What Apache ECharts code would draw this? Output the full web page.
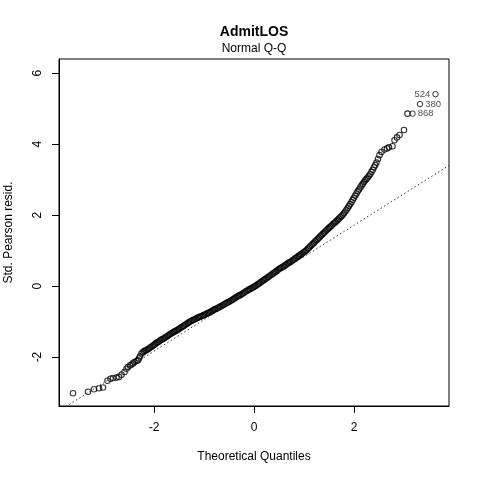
<!DOCTYPE html>
<html>
<head>
<meta charset="utf-8">
<script src="https://cdn.jsdelivr.net/npm/echarts@6/dist/echarts.min.js"></script>
<style>
  html, body { margin: 0; padding: 0; background: #fff; }
  #chart { width: 480px; height: 480px; }
</style>
</head>
<body>
<div id="chart"></div>
<script>
// theoretical quantiles / std. pearson residuals
var qqX = [
    -3.62, -3.32, -3.20, -3.10, -3.02, -2.93, -2.87, -2.82, -2.75, -2.70,
    -2.65, -2.59, -2.55, -2.52, -2.48, -2.45, -2.42, -2.39, -2.35, -2.32,
    -2.30, -2.28,
    -2.250, -2.225, -2.200, -2.175, -2.150, -2.125, -2.100, -2.075,
    -2.050, -2.025, -2.000, -1.975, -1.950, -1.925, -1.900, -1.875,
    -1.850, -1.825, -1.800, -1.775, -1.750, -1.725, -1.700, -1.675,
    -1.650, -1.625, -1.600, -1.575, -1.550, -1.525, -1.500, -1.475,
    -1.450, -1.425, -1.400, -1.375, -1.350, -1.325, -1.300, -1.275,
    -1.250, -1.225, -1.200, -1.175, -1.150, -1.125, -1.100, -1.075,
    -1.050, -1.025, -1.000, -0.975, -0.950, -0.925, -0.900, -0.875,
    -0.850, -0.825, -0.800, -0.775, -0.750, -0.725, -0.700, -0.675,
    -0.650, -0.625, -0.600, -0.575, -0.550, -0.525, -0.500, -0.475,
    -0.450, -0.425, -0.400, -0.375, -0.350, -0.325, -0.300, -0.275,
    -0.250, -0.225, -0.200, -0.175, -0.150, -0.125, -0.100, -0.075,
    -0.050, -0.025, 0.000, 0.025, 0.050, 0.075, 0.100, 0.125,
    0.150, 0.175, 0.200, 0.225, 0.250, 0.275, 0.300, 0.325,
    0.350, 0.375, 0.400, 0.425, 0.450, 0.475, 0.500, 0.525,
    0.550, 0.575, 0.600, 0.625, 0.650, 0.675, 0.700, 0.725,
    0.750, 0.775, 0.800, 0.825, 0.850, 0.875, 0.900, 0.925,
    0.950, 0.975, 1.000, 1.025, 1.050, 1.075, 1.100, 1.125,
    1.150, 1.175, 1.200, 1.225, 1.250, 1.275, 1.300, 1.325,
    1.350, 1.375, 1.400, 1.425, 1.450, 1.475, 1.500, 1.525,
    1.550, 1.575, 1.600, 1.625, 1.650, 1.675, 1.700, 1.725,
    1.750, 1.775, 1.800, 1.825, 1.850, 1.875, 1.900, 1.925,
    1.950, 1.975, 2.000, 2.025, 2.050, 2.075, 2.100, 2.125,
    2.150, 2.175, 2.200, 2.225, 2.250, 2.275, 2.300, 2.325,
    2.350, 2.375, 2.400, 2.425, 2.450,
    2.48, 2.51, 2.55, 2.61, 2.66, 2.70, 2.77, 2.81, 2.86, 2.91,
    3.00, 3.07
];
var qqY = [
    -3.02, -2.98, -2.91, -2.88, -2.86, -2.67, -2.61, -2.59, -2.58, -2.56,
    -2.50, -2.42, -2.33, -2.28, -2.24, -2.21, -2.18, -2.14, -2.11, -2.09,
    -2.04, -1.98,
    -1.90, -1.87, -1.84, -1.82, -1.80, -1.78, -1.76, -1.73,
    -1.71, -1.68, -1.66, -1.63, -1.60, -1.58, -1.56, -1.53,
    -1.51, -1.49, -1.47, -1.45, -1.43, -1.40, -1.38, -1.35,
    -1.33, -1.31, -1.29, -1.27, -1.25, -1.23, -1.21, -1.18,
    -1.16, -1.14, -1.12, -1.09, -1.07, -1.04, -1.02, -1.00,
    -0.98, -0.96, -0.95, -0.93, -0.91, -0.89, -0.88, -0.86,
    -0.85, -0.83, -0.82, -0.80, -0.78, -0.76, -0.75, -0.73,
    -0.71, -0.69, -0.67, -0.65, -0.64, -0.62, -0.60, -0.58,
    -0.56, -0.54, -0.52, -0.50, -0.48, -0.46, -0.44, -0.42,
    -0.40, -0.38, -0.36, -0.33, -0.31, -0.29, -0.27, -0.25,
    -0.23, -0.21, -0.19, -0.16, -0.14, -0.12, -0.10, -0.08,
    -0.06, -0.04, -0.02, 0.00, 0.02, 0.05, 0.07, 0.10,
    0.12, 0.15, 0.17, 0.20, 0.22, 0.25, 0.27, 0.30,
    0.32, 0.35, 0.37, 0.40, 0.42, 0.45, 0.48, 0.50,
    0.52, 0.54, 0.56, 0.59, 0.61, 0.64, 0.66, 0.68,
    0.70, 0.73, 0.75, 0.78, 0.80, 0.83, 0.85, 0.88,
    0.90, 0.93, 0.96, 0.98, 1.01, 1.05, 1.08, 1.12,
    1.15, 1.19, 1.22, 1.26, 1.29, 1.33, 1.36, 1.40,
    1.43, 1.47, 1.50, 1.54, 1.57, 1.61, 1.64, 1.67,
    1.70, 1.74, 1.77, 1.80, 1.83, 1.87, 1.90, 1.94,
    1.97, 2.01, 2.05, 2.10, 2.15, 2.20, 2.26, 2.31,
    2.37, 2.43, 2.49, 2.55, 2.61, 2.67, 2.72, 2.78,
    2.83, 2.88, 2.93, 2.98, 3.02, 3.06, 3.11, 3.16,
    3.22, 3.28, 3.35, 3.41, 3.48,
    3.58, 3.69, 3.78, 3.85, 3.88, 3.91, 3.94, 4.11, 4.19, 4.26,
    4.40, 4.86
];

// the three flagged observations
var idLabels = ['868', '380', '524'];
var idX = [3.17, 3.32, 3.63];
var idY = [4.86, 5.13, 5.41];
var idSide = ['right', 'right', 'left'];

// qqline end points at the axis limits
var refX = [-3.9, 3.9];
var refY = [-3.52, 3.40];

var xTicks = [-2, 0, 2];
var yTicks = [-2, 0, 2, 4, 6];

var myChart = echarts.init(document.getElementById('chart'));

var pts = [];
for (var i = 0; i < qqX.length; i++) {
    pts.push([qqX[i], qqY[i]]);
}
var idPts = [];
for (var j = 0; j < idX.length; j++) {
    idPts.push({
        name: idLabels[j],
        value: [idX[j], idY[j]],
        label: { position: idSide[j] }
    });
}

var font = 'Liberation Sans, Arial, sans-serif';
var tickStyle = { show: true, inside: false, length: 7, lineStyle: { color: '#000', width: 1 } };

var option = {
    animation: false,
    backgroundColor: '#fff',
    textStyle: { fontFamily: font },
    grid: {
        left: 59, right: 31, top: 59, bottom: 74,
        outerBoundsMode: 'none',
        show: true, borderColor: '#000', borderWidth: 1, backgroundColor: 'transparent'
    },
    graphic: [
        { type: 'text', x: 254, y: 32, style: { text: 'AdmitLOS', font: 'bold 14px ' + font, fill: '#000', textAlign: 'center', textVerticalAlign: 'middle' } },
        { type: 'text', x: 254, y: 49, style: { text: 'Normal Q-Q', font: '12px ' + font, fill: '#000', textAlign: 'center', textVerticalAlign: 'middle' } }
    ],
    xAxis: {
        type: 'value',
        min: -3.9,
        max: 3.9,
        name: 'Theoretical Quantiles',
        nameLocation: 'middle',
        nameGap: 45,
        nameTextStyle: { color: '#000', fontSize: 12, fontFamily: font },
        axisLine: { show: true, onZero: false, lineStyle: { color: '#000' } },
        axisTick: Object.assign({ customValues: xTicks }, tickStyle),
        axisLabel: { customValues: xTicks, color: '#000', fontSize: 12, margin: 16 },
        splitLine: { show: false }
    },
    yAxis: {
        type: 'value',
        min: -3.38,
        max: 6.4,
        name: 'Std. Pearson resid.',
        nameLocation: 'middle',
        nameRotate: 90,
        nameGap: 44,
        nameTextStyle: { color: '#000', fontSize: 12, fontFamily: font },
        axisLine: { show: true, onZero: false, lineStyle: { color: '#000' } },
        axisTick: Object.assign({ customValues: yTicks }, tickStyle),
        axisLabel: { customValues: yTicks, color: '#000', fontSize: 12, rotate: 90, margin: 15 },
        splitLine: { show: false }
    },
    series: [{
        type: 'line',
        data: [[refX[0], refY[0]], [refX[1], refY[1]]],
        symbol: 'none',
        clip: true,
        silent: true,
        lineStyle: { color: '#333', width: 1, type: [1.5, 2.5] }
    }, {
        type: 'scatter',
        data: pts,
        symbol: 'circle',
        symbolSize: 5.5,
        itemStyle: { color: 'rgba(0,0,0,0)', borderColor: '#000', borderWidth: 1.1 }
    }, {
        type: 'scatter',
        data: idPts,
        symbol: 'circle',
        symbolSize: 5.5,
        itemStyle: { color: 'rgba(0,0,0,0)', borderColor: '#000', borderWidth: 1 },
        label: {
            show: true,
            formatter: '{b}',
            color: '#222',
            fontSize: 9.5,
            fontFamily: font,
            distance: 2
        }
    }]
};

myChart.setOption(option);
</script>
</body>
</html>
